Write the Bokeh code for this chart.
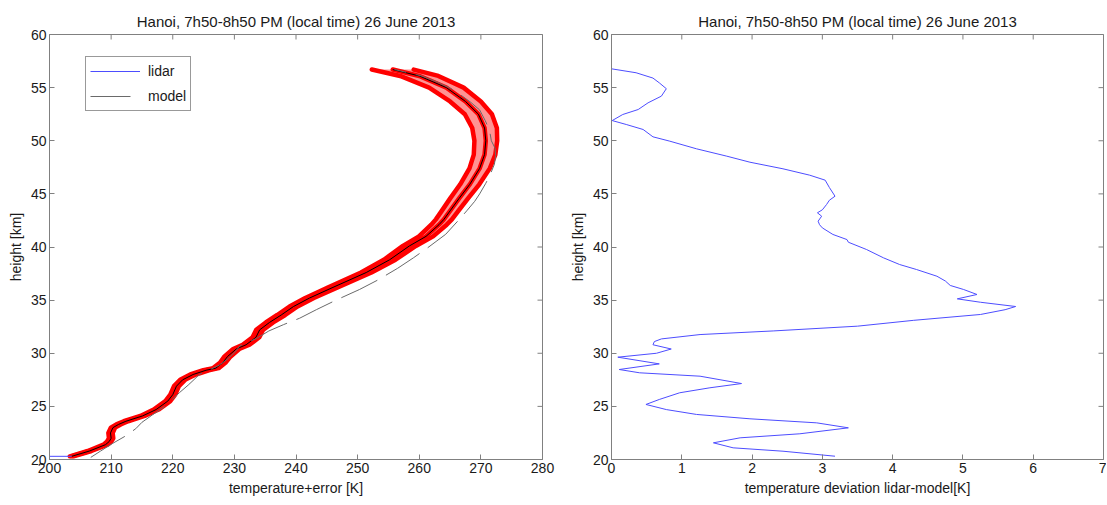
import math
from bokeh.plotting import figure
from bokeh.models import Range1d, Legend, LegendItem, FixedTicker, ColumnDataSource
from bokeh.layouts import row
from bokeh.embed import file_html
from bokeh.resources import INLINE

TITLE = "Hanoi, 7h50-8h50 PM (local time) 26 June 2013"
FONT = "Liberation Sans"

# ---- lidar temperature profile (height km, temperature K, error K)
h_lidar = [20.3, 20.8, 21.4, 21.7, 22.0, 22.5, 23.0, 23.3, 23.6, 24.1, 24.7, 25.5, 26.1, 26.9,
           27.5, 28.0, 28.4, 28.6, 29.1, 29.7, 30.4, 30.8, 31.5, 32.2, 32.9, 33.6, 34.4, 35.2,
           36.2, 37.6, 38.8, 40.1, 41.0, 42.1, 42.6, 43.4, 44.6, 45.9, 47.4, 48.7, 50.0, 51.2,
           52.5, 53.7, 55.0, 56.1, 56.7]
T_lidar = [203.6, 206.5, 209.1, 209.7, 210.0, 209.9, 210.3, 211.2, 212.4, 215.1, 217.3, 219.2,
           220.0, 220.6, 221.6, 223.3, 225.4, 227.0, 228.1, 228.9, 230.3, 231.9, 233.5, 234.1,
           235.7, 237.6, 239.6, 242.2, 246.0, 251.4, 255.2, 258.4, 261.1, 263.2, 264.0, 265.0,
           266.5, 268.2, 269.8, 270.6, 270.8, 270.6, 269.6, 267.5, 264.4, 260.0, 255.7]
T_err = [0.3, 0.3, 0.35, 0.35, 0.35, 0.35, 0.35, 0.35, 0.35, 0.35, 0.4, 0.4, 0.4, 0.4, 0.4, 0.45,
         0.45, 0.45, 0.45, 0.5, 0.5, 0.55, 0.55, 0.55, 0.6, 0.65, 0.65, 0.7, 0.75, 0.85, 0.95, 1.05,
         1.15, 1.25, 1.3, 1.35, 1.45, 1.55, 1.65, 1.75, 1.85, 2.0, 2.2, 2.5, 2.8, 3.1, 3.4]

# ---- short blue lidar trace at the bottom of the left panel
h_blue = [20.3, 20.3]
T_blue = [195.0, 203.6]

# ---- model temperature profile
h_model = [20.2, 20.8, 21.5, 22.2, 22.9, 23.5, 24.2, 25.0, 25.7, 26.3, 27.0, 27.6, 28.0, 28.5,
           28.9, 29.5, 30.1, 30.7, 31.4, 32.1, 32.7, 33.3, 34.1, 35.0, 36.0, 36.9, 38.0, 39.0,
           39.9, 41.2, 42.6, 43.4, 44.3, 45.0, 46.0, 46.8, 47.8, 48.6, 49.3, 50.0, 51.0, 51.9,
           52.9, 53.6, 54.2, 54.9, 55.5, 56.1, 56.7]
T_model = [206.7, 208.3, 210.2, 212.3, 214.0, 215.0, 216.7, 218.7, 220.0, 221.1, 222.5, 223.6,
           224.3, 226.2, 227.6, 229.0, 230.1, 230.9, 233.6, 235.6, 238.0, 240.6, 243.3, 246.5,
           250.3, 253.3, 256.5, 259.1, 261.3, 264.3, 266.5, 267.7, 269.0, 269.8, 270.8, 271.5,
           272.2, 272.4, 272.3, 271.7, 271.4, 270.7, 269.8, 268.4, 267.0, 265.2, 263.0, 260.4,
           256.0]

# ---- temperature deviation lidar-model
h_dev = [20.31, 20.78, 21.1, 21.57, 22.04, 22.42, 22.98, 23.45, 23.83, 24.24, 24.7, 25.18,
         25.65, 26.28, 26.75, 27.15, 27.84, 28.16, 28.47, 29.0, 29.63, 30.0, 30.4, 30.8, 31.1,
         31.35, 31.76, 32.1, 32.55, 33.1, 33.65, 34.1, 34.4, 34.8, 35.12, 35.53, 36.0, 36.38,
         36.8, 37.25, 37.88, 38.35, 38.98, 39.76, 40.45, 40.7, 41.18, 41.8, 42.1, 42.43, 42.9,
         43.22, 43.5, 44.0, 44.4, 44.78, 45.6, 46.29, 46.76, 47.36, 47.98, 48.55, 49.24, 49.96,
         50.37, 51.06, 51.53, 51.9, 52.47, 52.94, 53.57, 54.2, 54.9, 55.45, 55.9, 56.4, 56.77]
dev = [3.18, 2.44, 1.73, 1.45, 1.83, 2.68, 3.37, 2.92, 1.97, 1.21, 0.78, 0.49,
       0.68, 0.97, 1.4, 1.85, 1.26, 0.4, 0.11, 0.68, 0.09, 0.64, 0.85, 0.59, 0.61,
       0.71, 1.26, 2.3, 3.5, 4.3, 5.25, 5.6, 5.75, 5.25, 4.92, 5.2, 5.01, 4.82,
       4.75, 4.63, 4.34, 4.1, 3.87, 3.63, 3.37, 3.35, 3.15, 3.0, 2.96, 2.94, 2.99,
       2.93, 3.0, 3.06, 3.1, 3.18, 3.1, 3.04, 2.82, 2.44, 1.97, 1.64, 1.21, 0.83,
       0.59, 0.45, 0.21, 0.01, 0.16, 0.38, 0.52, 0.71, 0.78, 0.68, 0.59, 0.35, 0.0]

x_ticks_left = [200, 210, 220, 230, 240, 250, 260, 270, 280]
x_ticks_right = [0, 1, 2, 3, 4, 5, 6, 7]
y_ticks = [20, 25, 30, 35, 40, 45, 50, 55, 60]

AX = "#808080"
TXT = "#1a1a1a"


def style_axis(ax, ticks):
    ax.ticker = FixedTicker(ticks=ticks)
    ax.axis_line_color = AX
    ax.major_tick_line_color = AX
    ax.major_tick_in = 5
    ax.major_tick_out = 0
    ax.minor_tick_in = 0
    ax.minor_tick_out = 0
    ax.minor_tick_line_color = None
    ax.major_label_text_font = FONT
    ax.major_label_text_font_size = "14px"
    ax.major_label_text_color = TXT
    ax.major_label_standoff = 3
    ax.axis_label_text_font = FONT
    ax.axis_label_text_font_size = "14px"
    ax.axis_label_text_font_style = "normal"
    ax.axis_label_text_color = TXT
    ax.axis_label_standoff = 4


def make_fig(xticks, xlabel, fw, bl, br):
    p = figure(frame_width=fw, frame_height=425,
               x_range=Range1d(xticks[0], xticks[-1]), y_range=Range1d(y_ticks[0], y_ticks[-1]),
               output_backend="svg", toolbar_location=None,
               min_border_left=bl, min_border_right=br, min_border_top=34, min_border_bottom=43)
    p.outline_line_color = AX
    p.xgrid.visible = False
    p.ygrid.visible = False
    p.title.text = TITLE
    p.title.align = "center"
    p.title.text_font = FONT
    p.title.text_font_size = "15px"
    p.title.text_font_style = "normal"
    p.title.text_color = TXT
    p.title.standoff = 9
    p.xaxis.axis_label = xlabel
    p.yaxis.axis_label = "height [km]"
    style_axis(p.xaxis[0], xticks)
    style_axis(p.yaxis[0], y_ticks)
    # inward tick marks on the top and right edges of the box (clipped by the frame)
    p.scatter(x=xticks, y=[y_ticks[-1]] * len(xticks), marker="dash", size=10,
              angle=math.pi / 2, line_color=AX, line_width=1)
    p.scatter(x=[xticks[-1]] * len(y_ticks), y=y_ticks, marker="dash", size=10,
              angle=0, line_color=AX, line_width=1)
    return p


# ---------------- left panel
p1 = make_fig(x_ticks_left, "temperature+error [K]", 493, 49, 17)
lo = [t - e for t, e in zip(T_lidar, T_err)]
hi = [t + e for t, e in zip(T_lidar, T_err)]
src = ColumnDataSource(dict(h=h_lidar, T=T_lidar, lo=lo, hi=hi))
p1.harea(x1="lo", x2="hi", y="h", source=src, fill_color="#ff9494", fill_alpha=1.0)
for col in ("lo", "hi", "T"):
    p1.line(x=col, y="h", source=src, line_color="#ff0000", line_width=4.5,
            line_join="round", line_cap="round")
p1.line(x="T", y="h", source=src, line_color="#000000", line_width=1)
r_model = p1.line(x=T_model, y=h_model, line_color="#6a6a6a", line_width=1, line_dash="40 10")
r_blue = p1.line(x=T_blue, y=h_blue, line_color="#4d4dff", line_width=1)

legend = Legend(items=[LegendItem(label="lidar", renderers=[r_blue]),
                       LegendItem(label="model", renderers=[r_model])],
                location=(36, 348))
legend.label_text_font = FONT
legend.label_text_font_size = "14px"
legend.label_text_color = TXT
legend.glyph_width = 50
legend.glyph_height = 20
legend.label_height = 20
legend.label_standoff = 8
legend.spacing = 5
legend.padding = 4
legend.margin = 0
legend.border_line_color = "#333333"
legend.border_line_width = 1
legend.background_fill_alpha = 1.0
p1.add_layout(legend, "center")

# ---------------- right panel
p2 = make_fig(x_ticks_right, "temperature deviation lidar-model[K]", 492, 52, 3)
p2.line(x=dev, y=h_dev, line_color="#4d4dff", line_width=1)

layout = row(p1, p2)
open("out.html", "w").write(file_html(layout, INLINE))
